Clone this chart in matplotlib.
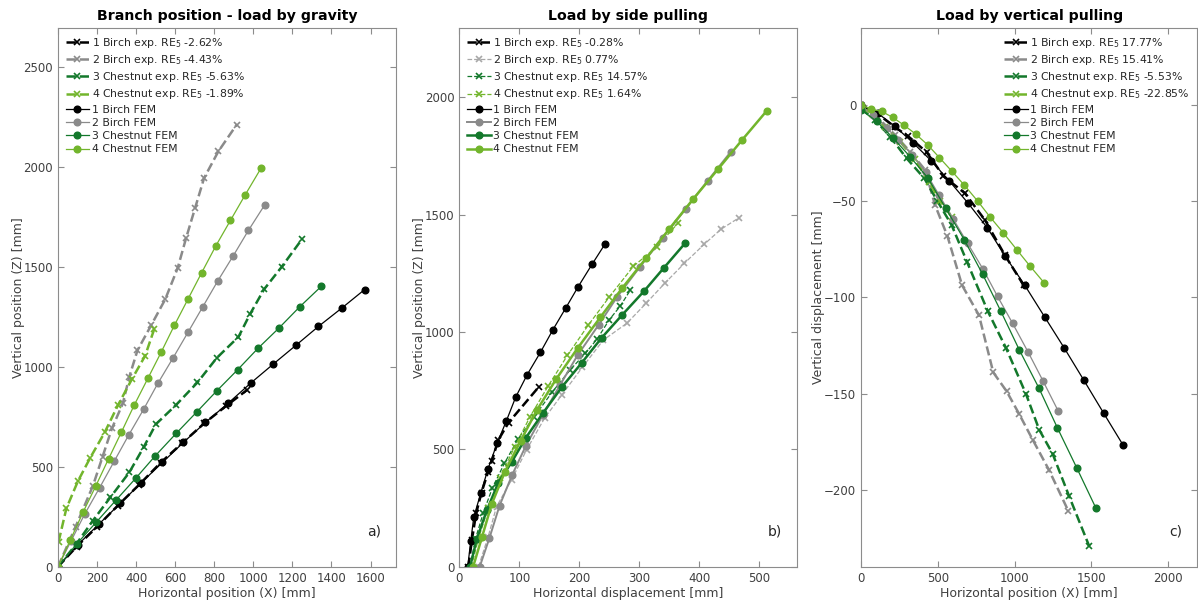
import matplotlib
matplotlib.use("Agg")
import matplotlib.pyplot as plt

BLACK = "#000000"
GRAY = "#8a8a8a"
LGRAY = "#a8a8a8"
DGREEN = "#13782b"
LGREEN = "#72b52c"

NAMES = ["1 Birch", "2 Birch", "3 Chestnut", "4 Chestnut"]

# ---- a) Branch position - load by gravity ----
a_re = ["-2.62%", "-4.43%", "-5.63%", "-1.89%"]
a_exp_x = [
    [0, 95, 200, 305, 415, 525, 634, 748, 859, 966],
    [0, 90, 179, 228, 276, 332, 365, 407, 477, 549, 613, 656, 702, 748, 821, 915],
    [0, 95, 178, 268, 365, 438, 501, 603, 714, 813, 924, 982, 1055, 1145, 1250],
    [3, 43, 102, 165, 239, 307, 378, 446, 492],
]
a_exp_y = [
    [0, 100, 200, 305, 410, 520, 617, 717, 803, 883],
    [0, 200, 405, 550, 692, 817, 950, 1083, 1208, 1338, 1495, 1645, 1795, 1945, 2078, 2212],
    [0, 115, 230, 347, 472, 597, 713, 808, 922, 1045, 1150, 1262, 1388, 1500, 1640],
    [125, 292, 428, 545, 672, 808, 938, 1055, 1187],
]
a_fem_x = [
    [0, 102, 208, 319, 426, 535, 642, 755, 871, 988, 1101, 1217, 1333, 1454, 1570],
    [0, 68, 136, 213, 288, 361, 438, 511, 588, 665, 741, 818, 898, 975, 1058],
    [0, 97, 195, 297, 400, 498, 605, 711, 812, 920, 1024, 1132, 1237, 1348],
    [0, 63, 128, 194, 259, 324, 390, 460, 528, 596, 665, 736, 809, 883, 958, 1040],
]
a_fem_y = [
    [0, 110, 212, 317, 420, 522, 622, 722, 818, 920, 1013, 1107, 1202, 1295, 1387],
    [0, 131, 262, 395, 528, 657, 787, 917, 1043, 1172, 1300, 1430, 1557, 1683, 1810],
    [0, 115, 222, 333, 445, 555, 667, 775, 879, 986, 1093, 1195, 1300, 1403],
    [0, 133, 272, 405, 540, 672, 808, 942, 1073, 1208, 1338, 1472, 1607, 1733, 1860, 1995],
]

# ---- b) Load by side pulling ----
b_re = ["-0.28%", "0.77%", "14.57%", "1.64%"]
b_exp_x = [
    [15, 21, 28, 37, 48, 54, 65, 82, 132],
    [32, 48, 62, 87, 112, 142, 171, 205, 240, 279, 311, 342, 375, 408, 436, 466],
    [18, 27, 40, 55, 75, 98, 125, 155, 185, 210, 230, 250, 268, 285],
    [20, 32, 48, 68, 92, 118, 148, 180, 215, 250, 290, 329, 364],
]
b_exp_y = [
    [0, 114, 228, 316, 405, 450, 540, 614, 765],
    [0, 128, 256, 370, 498, 633, 733, 850, 966, 1037, 1122, 1207, 1293, 1374, 1438, 1487],
    [0, 120, 230, 335, 440, 545, 640, 745, 840, 909, 972, 1053, 1110, 1179],
    [0, 120, 250, 380, 510, 640, 770, 900, 1030, 1150, 1280, 1363, 1463],
]
b_fem_x = [
    [14, 19, 24, 36, 48, 63, 78, 94, 113, 135, 156, 177, 198, 221, 243],
    [34, 50, 67, 88, 111, 139, 168, 197, 232, 263, 301, 339, 377, 414, 452],
    [18, 29, 46, 65, 87, 111, 140, 171, 204, 237, 271, 308, 341, 376],
    [23, 38, 54, 76, 102, 129, 161, 197, 235, 271, 311, 350, 390, 431, 471, 512],
]
b_fem_y = [
    [0, 108, 210, 316, 418, 526, 619, 723, 818, 913, 1010, 1101, 1193, 1288, 1376],
    [0, 121, 260, 391, 516, 646, 775, 901, 1030, 1150, 1278, 1402, 1524, 1645, 1767],
    [0, 117, 242, 358, 445, 550, 657, 766, 869, 975, 1072, 1175, 1274, 1378],
    [0, 128, 267, 405, 536, 666, 798, 931, 1063, 1186, 1314, 1440, 1568, 1694, 1818, 1942],
]

# ---- c) Load by vertical pulling ----
c_re = ["17.77%", "15.41%", "-5.53%", "-22.85%"]
c_exp_x = [
    [0, 102, 221, 308, 427, 536, 677, 807, 937, 1058],
    [0, 113, 221, 319, 417, 482, 562, 658, 768, 861, 948, 1028, 1117, 1223, 1349],
    [0, 91, 189, 297, 412, 497, 590, 690, 826, 944, 1074, 1160, 1247, 1355, 1486],
    [0, 69, 156, 254, 351, 443, 514, 590],
]
c_exp_y = [
    [0, -4.2, -11.5, -16.3, -24.5, -36.9, -45.9, -59.8, -78.1, -93.6],
    [-1, -6.8, -15.5, -24.2, -33.7, -52, -68, -93.7, -109.3, -139, -148.8, -160.4, -173.9, -189.6, -210.9],
    [-2, -7.7, -16.4, -27.7, -38.1, -49.9, -62.4, -81.5, -107.3, -126.3, -150.2, -168.8, -181.2, -203.4, -229.4],
    [-1, -4.7, -11.2, -19, -28.3, -40, -49.7, -58],
]
c_fem_x = [
    [0, 108, 221, 341, 456, 575, 698, 822, 937, 1067, 1195, 1323, 1451, 1579, 1707],
    [0, 80, 167, 243, 334, 421, 510, 601, 694, 792, 889, 987, 1089, 1186, 1284],
    [0, 102, 206, 319, 436, 551, 672, 792, 911, 1030, 1158, 1279, 1405, 1529],
    [0, 65, 134, 206, 282, 356, 434, 510, 590, 672, 759, 839, 926, 1013, 1100, 1193],
]
c_fem_y = [
    [0, -4.2, -11.1, -19.8, -28.9, -39.5, -51.1, -63.8, -78.4, -93.8, -110.1, -126.3, -143.1, -160.1, -176.9],
    [-1, -5, -11.7, -18.4, -25.9, -35, -47, -59.3, -71.9, -85, -99.5, -113.5, -128.6, -143.6, -159.1],
    [-2.4, -8.5, -16.9, -26.8, -38, -53.6, -70, -88, -107.3, -127.2, -147.1, -167.9, -188.7, -209.5],
    [0, -2.1, -3.3, -6.4, -10.6, -15.1, -20.7, -27.3, -34.3, -41.6, -49.9, -58.1, -66.4, -75.1, -83.7, -92.5],
]

plt.rcParams["font.family"] = "DejaVu Sans"
plt.rcParams["mathtext.fontset"] = "dejavusans"

fig = plt.figure(figsize=(11.98, 6.01), dpi=100)


def panel(rect, title, exp_x, exp_y, fem_x, fem_y, re, exp_styles, fem_styles,
          xlim, ylim, xticks, yticks, xlabel, ylabel, tag, loc):
    ax = fig.add_axes(rect)
    for i in range(4):
        col, lw = exp_styles[i]
        ax.plot(exp_x[i], exp_y[i], "--", color=col, lw=lw, marker="x", ms=5,
                mew=1.2, label=f"{NAMES[i]} exp. RE$_5$ {re[i]}")
    for i in range(4):
        col, lw = fem_styles[i]
        ax.plot(fem_x[i], fem_y[i], "-", color=col, lw=lw, marker="o", ms=4.8,
                mfc=col, mec=col, label=f"{NAMES[i]} FEM")
    ax.set_xlim(*xlim)
    ax.set_ylim(*ylim)
    ax.set_xticks(xticks)
    ax.set_yticks(yticks)
    ax.tick_params(direction="in", top=True, right=True, length=4,
                   labelsize=8.5, colors="#404040", color="#8c8c8c")
    for s in ax.spines.values():
        s.set_color("#8c8c8c")
    ax.set_title(title, fontsize=10.2, fontweight="bold", pad=6)
    ax.set_xlabel(xlabel, fontsize=9, color="#404040", labelpad=2)
    ax.set_ylabel(ylabel, fontsize=9, color="#404040", labelpad=-1)
    ax.text(0.935, 0.065, tag, transform=ax.transAxes, fontsize=10,
            color="#262626", ha="center", va="center")
    ax.legend(loc=loc, frameon=False, fontsize=7.8, handlelength=2.2,
              handletextpad=0.2, labelspacing=0.3, borderaxespad=0.3,
              labelcolor="#262626", numpoints=1)
    return ax


thin_fem = [(BLACK, 0.9), (GRAY, 0.9), (DGREEN, 0.9), (LGREEN, 0.9)]
thick_exp = [(BLACK, 1.8), (GRAY, 1.8), (DGREEN, 1.8), (LGREEN, 1.8)]

panel([0.0484, 0.057, 0.2821, 0.8963], "Branch position - load by gravity",
      a_exp_x, a_exp_y, a_fem_x, a_fem_y, a_re, thick_exp, thin_fem,
      (0, 1730), (0, 2695), range(0, 1601, 200), range(0, 2501, 500),
      "Horizontal position (X) [mm]", "Vertical position (Z) [mm]", "a)", "upper left")

panel([0.3834, 0.057, 0.2816, 0.8963], "Load by side pulling",
      b_exp_x, b_exp_y, b_fem_x, b_fem_y, b_re,
      [(BLACK, 1.8), (LGRAY, 0.9), (DGREEN, 0.9), (LGREEN, 0.9)],
      [(BLACK, 0.9), (GRAY, 1.4), (DGREEN, 1.8), (LGREEN, 1.8)],
      (0, 562), (0, 2295), range(0, 501, 100), range(0, 2001, 500),
      "Horizontal displacement [mm]", "Vertical position (Z) [mm]", "b)", "upper left")

panel([0.7187, 0.057, 0.2807, 0.8963], "Load by vertical pulling",
      c_exp_x, c_exp_y, c_fem_x, c_fem_y, c_re, thick_exp, thin_fem,
      (0, 2189), (-240, 40), range(0, 2001, 500), range(-200, 1, 50),
      "Horizontal position (X) [mm]", "Vertical displacement [mm]", "c)", "upper right")

fig.savefig("out.png", dpi=100)
